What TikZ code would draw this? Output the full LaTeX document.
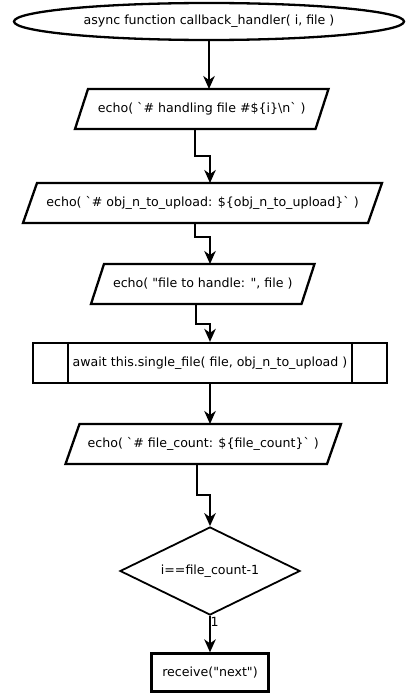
\documentclass[tikz,border=0pt]{standalone}
\usepackage{fontspec}
\setmainfont{DejaVu Sans}[Ligatures=TeXOff]
\usetikzlibrary{shapes.geometric,arrows.meta,calc}
\newcommand\drawpara[2]{\draw[shp] ($(#1.north west)+(#2,0)$) -- ($(#1.north east)+(#2,0)$) -- ($(#1.south east)-(#2,0)$) -- ($(#1.south west)-(#2,0)$) -- cycle;}
\begin{document}
\begin{tikzpicture}[x=1pt,y=-1pt,
  font=\fontsize{12.6}{15}\selectfont,
  shp/.style={draw, line width=2.3pt, line join=miter},
  iobox/.style={minimum height=40pt, inner sep=0pt, outer sep=0pt},
  arr/.style={draw, line width=2pt, line join=miter, -{Stealth[length=13pt,width=11.5pt,inset=4pt]}}]
\path[use as bounding box] (0,0) rectangle (408,693);

\node[shp, ellipse, minimum width=390pt, minimum height=37pt, inner sep=0pt] (start) at (209,21.5) {async function callback\_handler( i, file )};

\node[iobox, minimum width=240.5pt] (p1) at (201.75,109) {echo( `\# handling file \#\$\{i\}\textbackslash n` )};
\drawpara{p1}{6.5}

\node[iobox, minimum width=345pt] (p2) at (202.5,203) {echo( `\# obj\_n\_to\_upload: \$\{obj\_n\_to\_upload\}` )};
\drawpara{p2}{7}

\node[iobox, minimum width=210.5pt] (p3) at (202.75,284) {echo( "file to handle: ", file )};
\drawpara{p3}{6.5}

\node[shp, minimum width=354pt, minimum height=40pt, inner sep=0pt] (sub) at (210,363) {await this.single\_file( file, obj\_n\_to\_upload )};
\draw[shp] ([xshift=36pt]sub.north west) -- ([xshift=36pt]sub.south west);
\draw[shp] ([xshift=-36pt]sub.north east) -- ([xshift=-36pt]sub.south east);

\node[iobox, minimum width=261.5pt] (p4) at (203.25,444) {echo( `\# file\_count: \$\{file\_count\}` )};
\drawpara{p4}{7}

\node[draw, line width=1.8pt, diamond, minimum width=180pt, minimum height=88pt, inner sep=0pt, aspect=2.045] (d) at (210,571) {i==file\_count-1};

\node[shp, minimum width=117pt, minimum height=38pt, inner sep=0pt] (r) at (210,672.5) {receive("next")};

\node[anchor=west, inner sep=0pt] (one) at (210.5,622) {1};

\draw[arr] (start.south) -- (start.south |- p1.north);
\draw[arr] (p1.south -| 195,0) |- (210,155.5) -- (p2.north -| 210,0);
\draw[arr] (p2.south -| 195,0) |- (210,237) -- (p3.north -| 210,0);
\draw[arr] (p3.south -| 195.7,0) |- (210,324) -- (sub.north);
\draw[arr] (sub.south) -- (p4.north -| sub.south);
\draw[arr] (p4.south -| 196.5,0) |- (210,495) -- (d.north);
\draw[arr] (d.south) -- (r.north);
\end{tikzpicture}
\end{document}
